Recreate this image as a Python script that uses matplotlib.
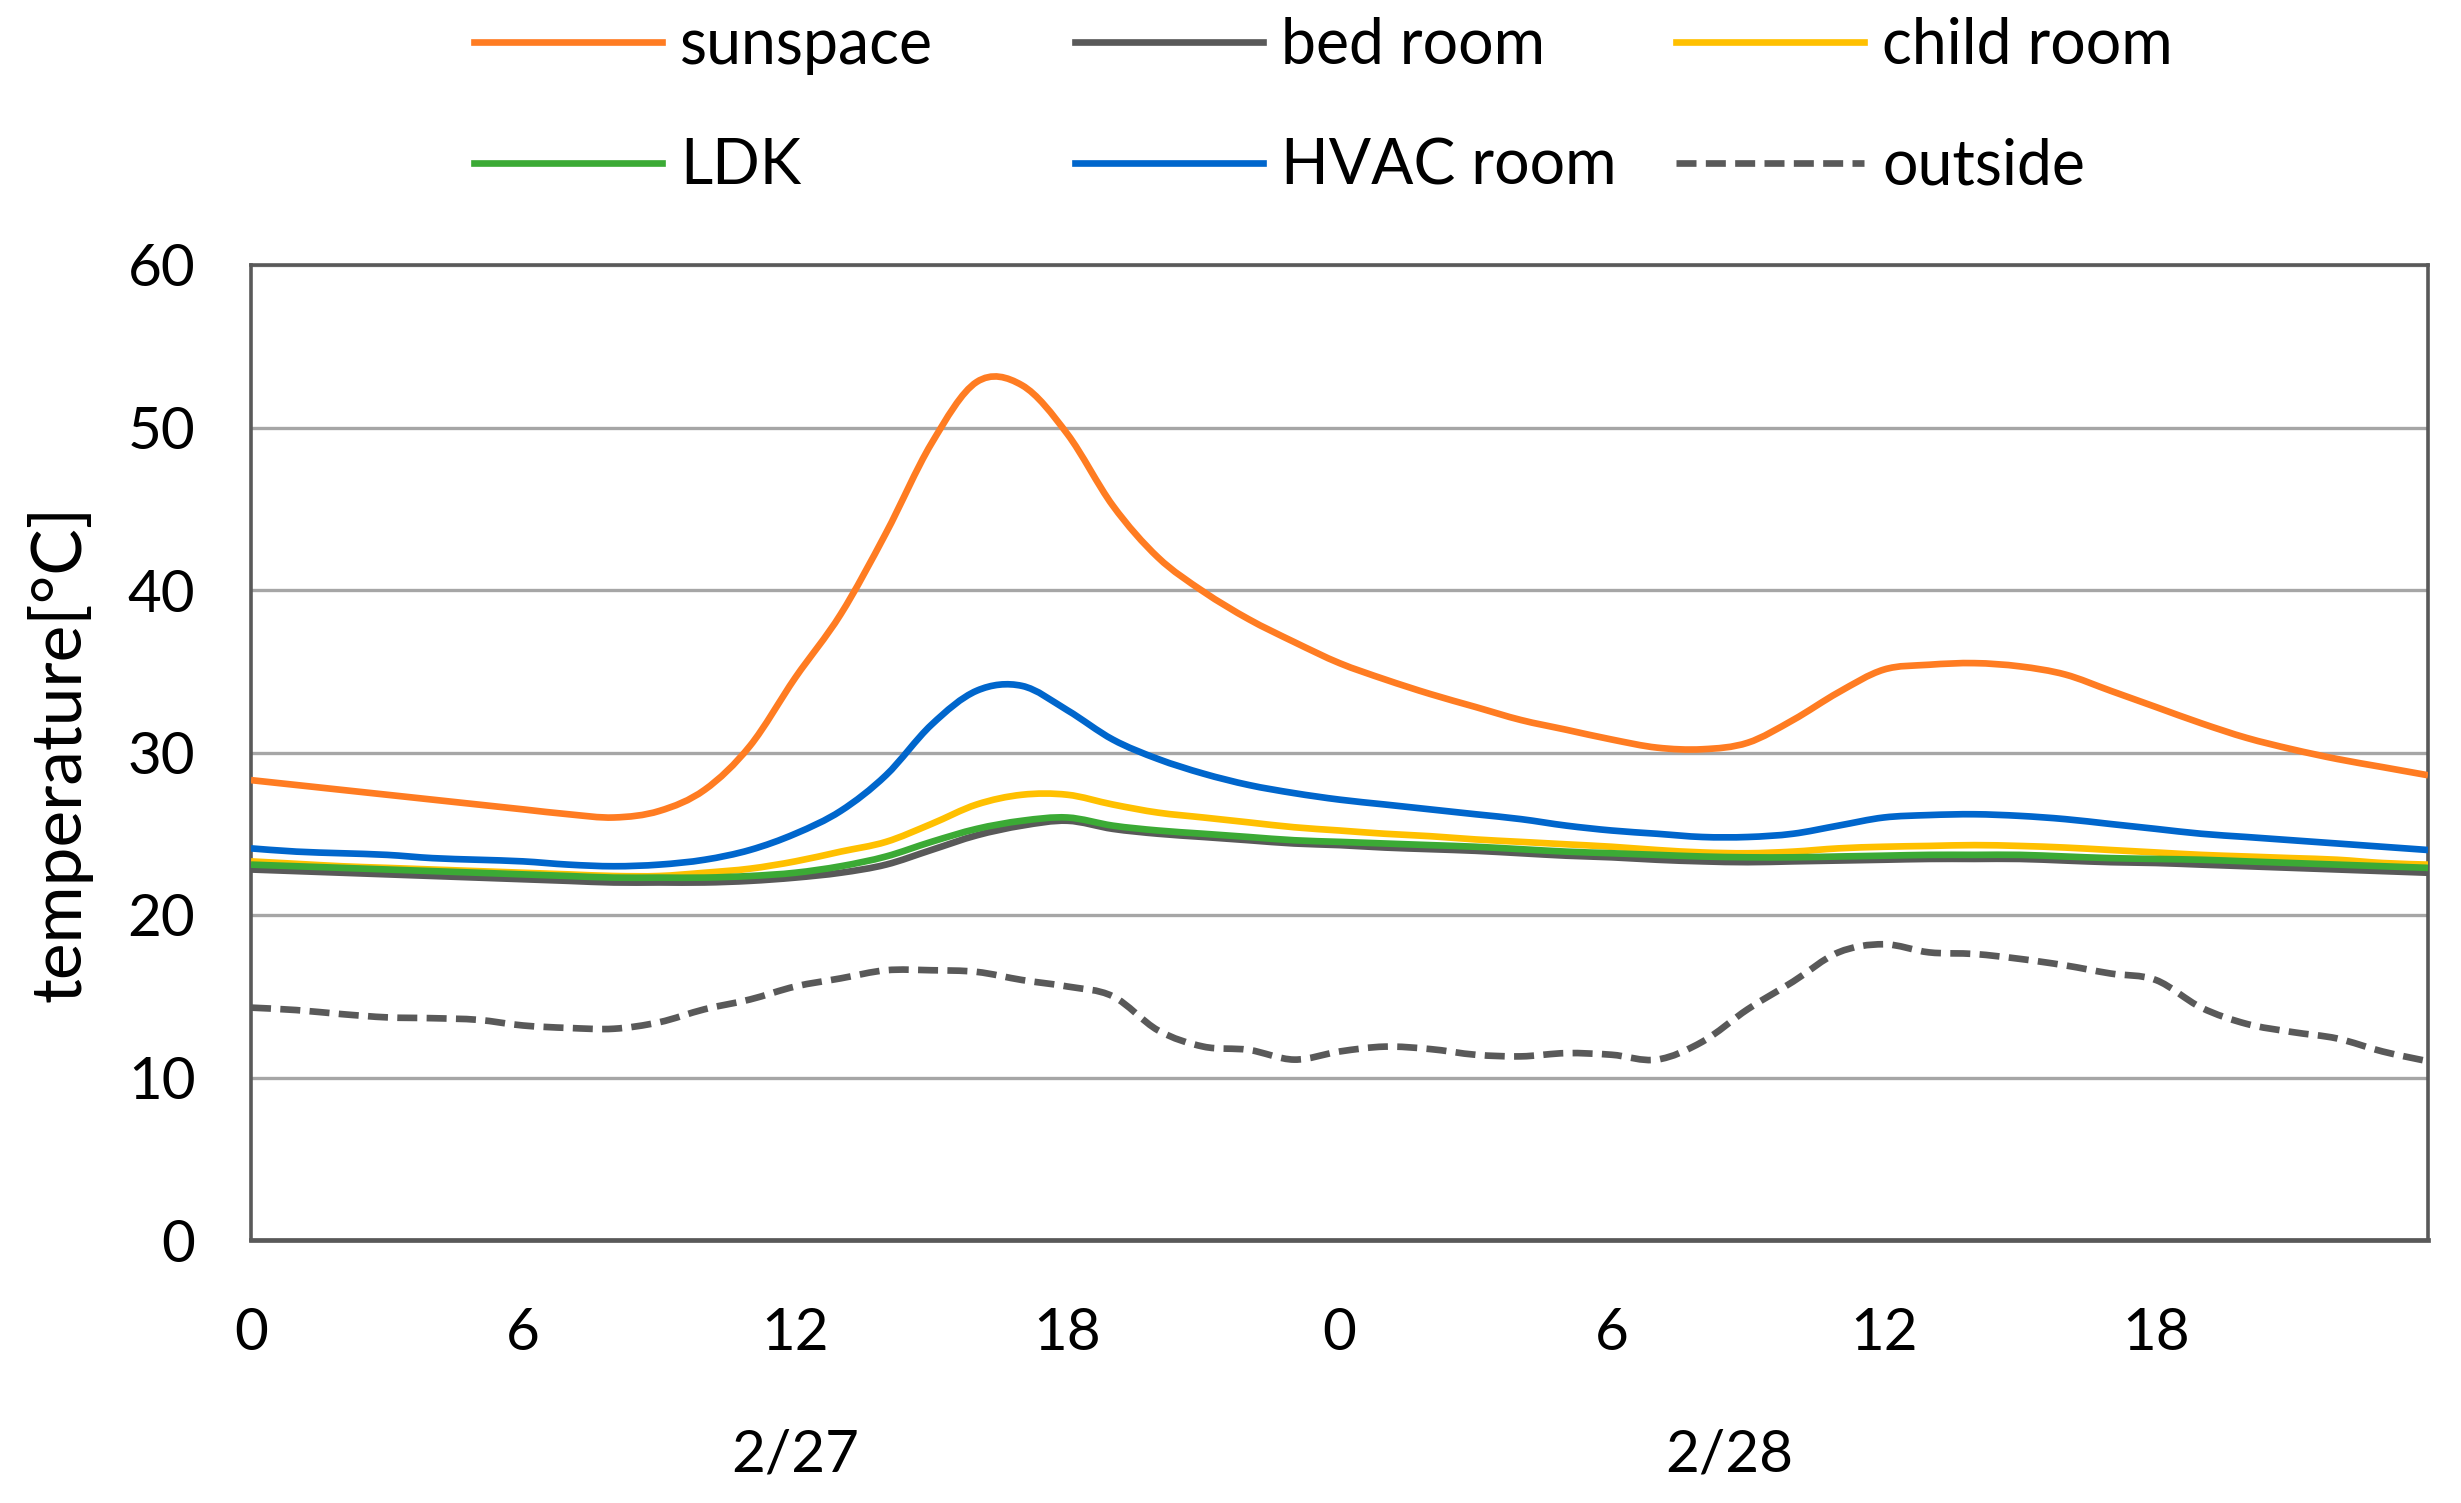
import numpy as np
import matplotlib
matplotlib.use("Agg")
import matplotlib.pyplot as plt
from matplotlib.path import Path
from matplotlib.patches import PathPatch
from matplotlib.lines import Line2D
import matplotlib.transforms as mtransforms

plt.rcParams['font.family'] = ['Lato', 'DejaVu Sans']

# ---------------- data (hourly, 2/27 0:00 .. 2/28 24:00) ----------------
hours = list(range(0, 49))

sunspace = [28.3, 28.0, 27.7, 27.4, 27.1, 26.8, 26.5, 26.2, 26.0, 26.4,
            27.7, 30.4, 34.6, 38.5, 43.5, 49.0, 52.8, 52.6, 49.6, 45.2,
            42.0, 39.9, 38.2, 36.8, 35.5, 34.5, 33.6, 32.8, 32.0, 31.4,
            30.8, 30.3, 30.2, 30.6, 32.0, 33.7, 35.1, 35.4, 35.5, 35.3,
            34.8, 33.8, 32.8, 31.8, 30.9, 30.2, 29.6, 29.1, 28.6]
bed_room = [22.8, 22.7, 22.6, 22.5, 22.4, 22.3, 22.2, 22.1, 22.0, 22.0,
            22.0, 22.1, 22.3, 22.6, 23.1, 24.0, 24.9, 25.5, 25.8, 25.3,
            25.0, 24.8, 24.6, 24.4, 24.3, 24.15, 24.05, 23.95, 23.8, 23.65,
            23.55, 23.4, 23.3, 23.25, 23.3, 23.35, 23.4, 23.45, 23.45, 23.45,
            23.35, 23.25, 23.2, 23.1, 23.0, 22.9, 22.8, 22.7, 22.6]
child_room = [23.3, 23.15, 23.0, 22.9, 22.8, 22.7, 22.6, 22.5, 22.4, 22.4,
              22.6, 22.85, 23.3, 23.9, 24.5, 25.6, 26.8, 27.4, 27.4, 26.8,
              26.3, 26.0, 25.7, 25.4, 25.2, 25.0, 24.85, 24.65, 24.5, 24.35,
              24.2, 24.0, 23.85, 23.8, 23.9, 24.1, 24.2, 24.25, 24.3, 24.25,
              24.15, 24.0, 23.85, 23.7, 23.6, 23.5, 23.4, 23.2, 23.1]
ldk = [23.1, 23.0, 22.9, 22.8, 22.7, 22.6, 22.5, 22.4, 22.3, 22.3,
       22.3, 22.4, 22.6, 23.0, 23.6, 24.5, 25.3, 25.8, 26.0, 25.5,
       25.2, 25.0, 24.8, 24.6, 24.5, 24.4, 24.3, 24.2, 24.05, 23.9,
       23.8, 23.7, 23.6, 23.55, 23.55, 23.6, 23.65, 23.7, 23.7, 23.7,
       23.6, 23.5, 23.45, 23.4, 23.3, 23.2, 23.1, 23.0, 22.9]
hvac_room = [24.1, 23.9, 23.8, 23.7, 23.5, 23.4, 23.3, 23.1, 23.0, 23.1,
             23.4, 24.0, 25.0, 26.4, 28.6, 31.7, 33.8, 34.1, 32.6, 30.8,
             29.6, 28.7, 28.0, 27.5, 27.1, 26.8, 26.5, 26.2, 25.9, 25.5,
             25.2, 25.0, 24.8, 24.8, 25.0, 25.5, 26.0, 26.15, 26.2, 26.1,
             25.9, 25.6, 25.3, 25.0, 24.8, 24.6, 24.4, 24.2, 24.0]
outside = [14.3, 14.15, 13.9, 13.7, 13.65, 13.55, 13.2, 13.05, 13.0, 13.4,
           14.2, 14.8, 15.6, 16.1, 16.6, 16.6, 16.5, 16.0, 15.6, 15.0,
           12.9, 11.9, 11.7, 11.1, 11.6, 11.9, 11.75, 11.4, 11.3, 11.5,
           11.4, 11.1, 12.2, 14.2, 15.9, 17.7, 18.2, 17.7, 17.6, 17.3,
           16.9, 16.4, 16.0, 14.3, 13.3, 12.8, 12.4, 11.6, 11.0]

series_names = ["sunspace", "bed room", "child room", "LDK", "HVAC room", "outside"]
series_values = [sunspace, bed_room, child_room, ldk, hvac_room, outside]
series_colors = ["#FF7C22", "#595959", "#FFC000", "#3BAA35", "#0066CC", "#595959"]

hour_ticks = [0, 6, 12, 18, 24, 30, 36, 42]
hour_tick_labels = ["0", "6", "12", "18", "0", "6", "12", "18"]
date_labels = ["2/27", "2/28"]
date_label_hours = [12, 32.6]

# ---------------- figure ----------------
W, H = 2461, 1503
fig = plt.figure(figsize=(W / 100, H / 100), dpi=100)
ax = fig.add_axes([251 / W, 1 - 1240 / H, (2428 - 251) / W, (1240 - 265) / H])

FS = 42
FS_LEG = 45
FS_YLAB = 50
LW = 4.8
DASH = (0, (3.0, 1.4))


def smooth_path(x, y):
    """Smoothed (Excel-style) rendering path through the data points."""
    P = np.column_stack([x, y]).astype(float)
    n = len(P)
    verts = [P[0]]
    codes = [Path.MOVETO]
    for i in range(n - 1):
        p0 = P[i - 1] if i > 0 else P[i]
        p1 = P[i]
        p2 = P[i + 1]
        p3 = P[i + 2] if i + 2 < n else P[i + 1]
        c1 = p1 + (p2 - p0) / 6.0
        c2 = p2 - (p3 - p1) / 6.0
        verts += [c1, c2, p2]
        codes += [Path.CURVE4] * 3
    return Path(verts, codes)


handles = []
for name, vals, col in zip(series_names, series_values, series_colors):
    ls = DASH if name == "outside" else "solid"
    patch = PathPatch(smooth_path(hours, vals), fill=False, edgecolor=col,
                      lw=LW, linestyle=ls, capstyle='butt', joinstyle='round',
                      zorder=3)
    ax.add_patch(patch)
    handles.append(Line2D([], [], color=col, lw=LW, linestyle=ls))

ax.set_xlim(0, 48)
ax.set_ylim(0, 60)
ax.set_yticks(range(0, 61, 10))
ax.set_xticks(hour_ticks)
ax.set_xticklabels(hour_tick_labels)
ax.yaxis.grid(True, color="#A6A6A6", lw=2.4)
ax.xaxis.grid(False)
ax.set_axisbelow(True)
ax.tick_params(axis='both', length=0, labelsize=FS)
ax.tick_params(axis='y', pad=40)
ax.tick_params(axis='x', pad=48)
for s in ax.spines.values():
    s.set_color("#595959")
    s.set_linewidth(2.6)
ax.spines['bottom'].set_linewidth(3.4)

# date labels under hour labels
trans = mtransforms.blended_transform_factory(ax.transData, fig.transFigure)
for lab, h in zip(date_labels, date_label_hours):
    ax.text(h, 1 - 1455 / H, lab, transform=trans, ha='center', va='center',
            fontsize=FS)

# y label
fig.text(60 / W, 1 - 753 / H, "temperature[°C]", rotation=90,
         ha='center', va='center', fontsize=FS_YLAB)

# legend: three columns of two rows
col_x = [474 / W, 1075 / W, 1676 / W]
order = [(0, 3), (1, 4), (2, 5)]
for cx, (a, b) in zip(col_x, order):
    fig.legend([handles[a], handles[b]], [series_names[a], series_names[b]],
               loc='upper left', bbox_to_anchor=(cx, 1 - 17 / H),
               frameon=False, borderpad=0, borderaxespad=0,
               handlelength=3.0, handletextpad=0.3, labelspacing=1.0,
               fontsize=FS_LEG)

fig.savefig("out.png", dpi=100)
